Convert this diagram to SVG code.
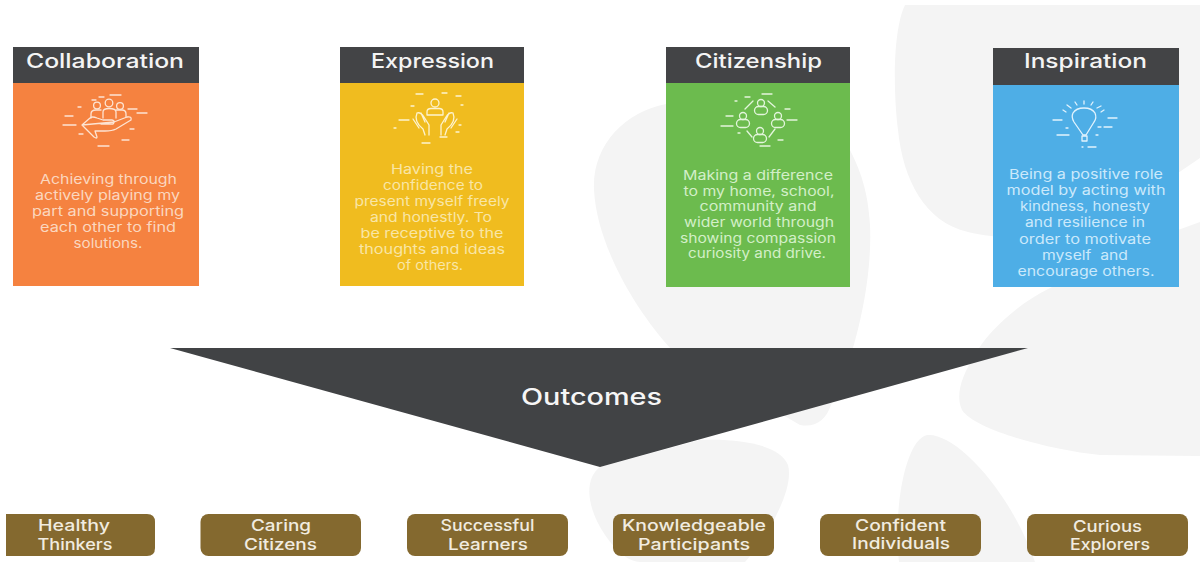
<svg xmlns="http://www.w3.org/2000/svg" width="1200" height="562" viewBox="0 0 1200 562">
<style>
text{font-family:"Inter","Liberation Sans",sans-serif;text-anchor:middle}
.petal{fill:#f4f4f4}
.head{fill:#434446}
.ht{fill:#f4f4f4;font-size:20px;font-weight:500}
.bd{font-size:13px}
.o .bd{fill:#fbd7bf}.y .bd{fill:#f9e6a6}.g .bd{fill:#d3efc8}.b .bd{fill:#cbe9fb}
.ic{fill:none;stroke-width:1.3;stroke-linecap:round;stroke-linejoin:round}
.o .ic{stroke:#fde4d3}.y .ic{stroke:#fdf3cf}.g .ic{stroke:#e3f5dc}.b .ic{stroke:#e2f3fd}
.pill{fill:#84692f}
.pt{fill:#f1ece0;font-size:16px;font-weight:500}
</style>
<rect width="1200" height="562" fill="#fff"/>
<g id="background">
<path class="petal" d="M666,104C625,112 592,145 594,190C597,245 635,310 672,350L800,425C815,428 826,420 831,405C850,370 873,290 870,225C868,190 860,170 850,150Z"/>
<path class="petal" d="M905,5C893,30 893,90 898,130C903,180 925,222 968,232C1000,240 1050,240 1100,230L1178,173L1200,158V5Z"/>
<path class="petal" d="M1200,222L1178,230C1130,255 1090,270 1050,288C1015,305 985,335 975,355C962,375 955,395 962,410C975,430 1050,450 1100,455L1200,456Z"/>
<path class="petal" d="M899,562C893,510 905,440 927,435C955,432 1010,490 1035,562Z"/>
<path class="petal" d="M600,467C585,478 585,505 605,535C617,553 630,562 640,562L745,562C765,540 795,490 788,465C780,445 740,438 700,440Z"/>
</g>
<g id="collaboration" class="o">
<rect x="13" y="83" width="186" height="203" fill="#f58240"/>
<rect class="head" x="13" y="47" width="186" height="36"/>
<text class="ht" x="105" y="67.5" textLength="158" lengthAdjust="spacingAndGlyphs">Collaboration</text>
<g class="ic">
<circle cx="97" cy="105.500" r="3.400"/><circle cx="109" cy="103" r="3.800"/><circle cx="120" cy="106" r="3.400"/>
<path d="M91,118V114Q91,110 96,110H101M103,118V112Q103,108.500 109,108.500Q116,108.500 116,112V118M116,110H122Q126,110 126,114V117"/>
<path d="M82,125L90,118Q92,116 97,118L103,120H112Q116,121 113,124H101M114,122L127,117Q132,116 131,120L116,129Q112,131 105,131H95L97,137Q97,139 94,137L82,125Z"/>
<path d="M92,100H96M99,97H104M110,95H121M128,109H137M137,113H147M65,116H73M63,125H76M79,134H83M130,129H134M122,140H129M98,146H109M78,107H81"/>
</g>
<text class="bd" x="108.500" y="184" textLength="137" lengthAdjust="spacingAndGlyphs">Achieving through</text>
<text class="bd" x="107.500" y="200" textLength="145" lengthAdjust="spacingAndGlyphs">actively playing my</text>
<text class="bd" x="108" y="216" textLength="152" lengthAdjust="spacingAndGlyphs">part and supporting</text>
<text class="bd" x="108" y="232" textLength="136" lengthAdjust="spacingAndGlyphs">each other to find</text>
<text class="bd" x="108" y="248" textLength="69" lengthAdjust="spacingAndGlyphs">solutions.</text>
</g>
<g id="expression" class="y">
<rect x="340" y="83" width="184" height="203" fill="#f0bc1f"/>
<rect class="head" x="340" y="47" width="184" height="36"/>
<text class="ht" x="432.500" y="67.5" textLength="123" lengthAdjust="spacingAndGlyphs">Expression</text>
<g class="ic">
<circle cx="435" cy="103" r="4"/>
<path d="M427,115V112Q427,108.500 431,108.500H439Q443,108.500 443,112V115Z"/>
<path d="M417,113C414,120 418,125 423,129L425,135M417,113C420,112 422,114 424,117L429,125V135M421,113L425,122M413,119L419,128"/>
<path d="M453,113C456,120 452,125 447,129L445,135M453,113C450,112 448,114 446,117L441,125V135M449,113L445,122M457,119L451,128"/>
<path d="M416,94H423M442,93H447M456,96H461M411,106H414M461,105H463M399,120H409M394,128H396M459,125H461M456,132H459M440,137H447M422,143H430"/>
</g>
<text class="bd" x="432" y="174" textLength="82" lengthAdjust="spacingAndGlyphs">Having the</text>
<text class="bd" x="433" y="190" textLength="100" lengthAdjust="spacingAndGlyphs">confidence to</text>
<text class="bd" x="432" y="206" textLength="155" lengthAdjust="spacingAndGlyphs">present myself freely</text>
<text class="bd" x="431" y="222" textLength="122" lengthAdjust="spacingAndGlyphs">and honestly. To</text>
<text class="bd" x="432" y="238" textLength="143" lengthAdjust="spacingAndGlyphs">be receptive to the</text>
<text class="bd" x="432" y="254" textLength="146" lengthAdjust="spacingAndGlyphs">thoughts and ideas</text>
<text class="bd" x="430" y="270" textLength="66" lengthAdjust="spacingAndGlyphs">of others.</text>
</g>
<g id="citizenship" class="g">
<rect x="666" y="83" width="184" height="204" fill="#6cbb4e"/>
<rect class="head" x="666" y="47" width="184" height="36"/>
<text class="ht" x="758.500" y="68" textLength="127" lengthAdjust="spacingAndGlyphs">Citizenship</text>
<g class="ic">
<circle cx="761" cy="103" r="3.500"/><rect x="754.500" y="106.500" width="13" height="8" rx="4"/>
<circle cx="743" cy="116" r="3.500"/><rect x="736.500" y="119.500" width="13" height="8" rx="4"/>
<circle cx="778" cy="116" r="3.500"/><rect x="771.500" y="119.500" width="13" height="8" rx="4"/>
<circle cx="760" cy="131" r="3.500"/><rect x="753.500" y="134.500" width="13" height="8" rx="4"/>
<path d="M753,101L745,109M768,101L775,107M747,131L752,137M775,129L769,137"/>
<path d="M735,101H737M745,97H750M762,94H772M785,109H790M726,116H733M721,126H733M787,120H797M738,133H740M778,140H783M760,146H770"/>
</g>
<text class="bd" x="758" y="180" textLength="150" lengthAdjust="spacingAndGlyphs">Making a difference</text>
<text class="bd" x="759" y="195.500" textLength="151" lengthAdjust="spacingAndGlyphs">to my home, school,</text>
<text class="bd" x="758" y="211" textLength="117" lengthAdjust="spacingAndGlyphs">community and</text>
<text class="bd" x="759" y="227" textLength="150" lengthAdjust="spacingAndGlyphs">wider world through</text>
<text class="bd" x="758" y="242.500" textLength="156" lengthAdjust="spacingAndGlyphs">showing compassion</text>
<text class="bd" x="757" y="258" textLength="138" lengthAdjust="spacingAndGlyphs">curiosity and drive.</text>
</g>
<g id="inspiration" class="b">
<rect x="993" y="85" width="186" height="202" fill="#4eaee6"/>
<rect class="head" x="993" y="48" width="186" height="37"/>
<text class="ht" x="1085.500" y="68" textLength="123" lengthAdjust="spacingAndGlyphs">Inspiration</text>
<g class="ic">
<path d="M1083,135L1074,122Q1071,117 1073,113Q1076,108 1084,108Q1092,108 1095,113Q1097,118 1094,122L1086,135Z"/>
<rect x="1082" y="136" width="5" height="5"/>
<path d="M1084,101V104M1075,102L1077,105M1093,102L1091,105M1067,105L1071,108M1101,106L1097,108M1063,110L1066,112M1104,110L1101,112M1053,120H1062M1108,118H1117M1066,128H1068M1098,127H1101M1104,127H1112M1057,135H1069M1096,135H1098M1082,147H1083M1088,147H1096"/>
</g>
<text class="bd" x="1086" y="179" textLength="154" lengthAdjust="spacingAndGlyphs">Being a positive role</text>
<text class="bd" x="1086" y="195" textLength="159" lengthAdjust="spacingAndGlyphs">model by acting with</text>
<text class="bd" x="1085" y="211" textLength="130" lengthAdjust="spacingAndGlyphs">kindness, honesty</text>
<text class="bd" x="1085" y="227" textLength="120" lengthAdjust="spacingAndGlyphs">and resilience in</text>
<text class="bd" x="1085" y="243.500" textLength="132" lengthAdjust="spacingAndGlyphs">order to motivate</text>
<text class="bd" x="1085" y="260" textLength="86" lengthAdjust="spacingAndGlyphs" xml:space="preserve">myself  and</text>
<text class="bd" x="1086" y="276" textLength="137" lengthAdjust="spacingAndGlyphs">encourage others.</text>
</g>
<g id="outcomes">
<polygon points="170,348 1028,348 600,467" fill="#414345"/>
<text x="591.500" y="405" fill="#f6f6f6" font-size="23" font-weight="500" textLength="141" lengthAdjust="spacingAndGlyphs">Outcomes</text>
</g>
<g id="healthy-thinkers"><path class="pill" d="M6,514H147Q155,514 155,522V548Q155,556 147,556H6Z"/><text class="pt" x="74" y="531" textLength="72" lengthAdjust="spacingAndGlyphs">Healthy</text><text class="pt" x="75" y="550" textLength="75" lengthAdjust="spacingAndGlyphs">Thinkers</text></g>
<g id="caring-citizens"><rect class="pill" x="200.500" y="514" width="160.500" height="42" rx="8"/><text class="pt" x="281" y="531" textLength="60" lengthAdjust="spacingAndGlyphs">Caring</text><text class="pt" x="280.500" y="550" textLength="73" lengthAdjust="spacingAndGlyphs">Citizens</text></g>
<g id="successful-learners"><rect class="pill" x="407" y="514" width="161" height="42" rx="8"/><text class="pt" x="487.500" y="531" textLength="94" lengthAdjust="spacingAndGlyphs">Successful</text><text class="pt" x="488" y="550" textLength="80" lengthAdjust="spacingAndGlyphs">Learners</text></g>
<g id="knowledgeable-participants"><rect class="pill" x="613" y="514" width="161" height="42" rx="8"/><text class="pt" x="694" y="531" textLength="144" lengthAdjust="spacingAndGlyphs">Knowledgeable</text><text class="pt" x="694" y="550" textLength="112" lengthAdjust="spacingAndGlyphs">Participants</text></g>
<g id="confident-individuals"><rect class="pill" x="820" y="514" width="161" height="42" rx="8"/><text class="pt" x="900.500" y="531" textLength="91" lengthAdjust="spacingAndGlyphs">Confident</text><text class="pt" x="901" y="549" textLength="98" lengthAdjust="spacingAndGlyphs">Individuals</text></g>
<g id="curious-explorers"><rect class="pill" x="1027" y="514" width="161" height="42" rx="8"/><text class="pt" x="1107.500" y="532" textLength="69" lengthAdjust="spacingAndGlyphs">Curious</text><text class="pt" x="1110" y="550" textLength="80" lengthAdjust="spacingAndGlyphs">Explorers</text></g>
</svg>
